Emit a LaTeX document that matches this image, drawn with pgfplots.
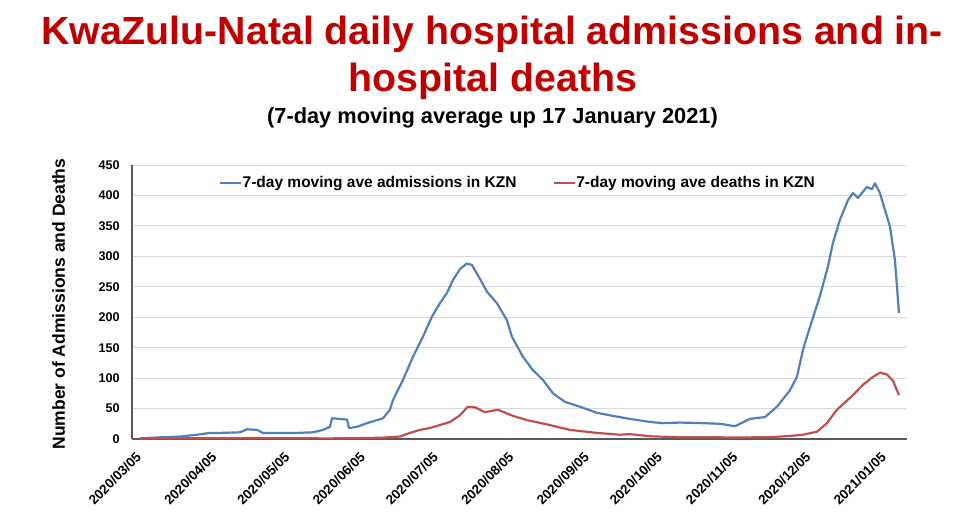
\documentclass[border=0pt]{standalone}
\usepackage{fontspec}
\setmainfont{Liberation Sans}
\usepackage{pgfplots}
\pgfplotsset{compat=1.18}
\definecolor{titlered}{HTML}{C00000}
\definecolor{adm}{HTML}{4F81BD}
\definecolor{dth}{HTML}{C0504D}
\begin{document}
\begin{tikzpicture}[x=1pt,y=1pt]
\path[use as bounding box] (0,0) rectangle (953,520);
\node[anchor=base, text=titlered, font=\fontsize{39.3}{47}\selectfont\bfseries, inner sep=0pt] at (492,475) {KwaZulu-Natal daily hospital admissions and in-};
\node[anchor=base, text=titlered, font=\fontsize{39.3}{47}\selectfont\bfseries, inner sep=0pt] at (493,428.3) {hospital deaths};
\node[anchor=base, font=\fontsize{21.8}{26}\selectfont\bfseries, inner sep=0pt] at (492.5,396) {(7-day moving average up 17 January 2021)};
\begin{axis}[
  at={(132pt,81pt)}, anchor=south west,
  scale only axis, width=775pt, height=274pt,
  xmin=-2.46, xmax=315.9, ymin=0, ymax=450,
  ytick={0,50,...,450},
  xtick={0,31,61,92,122,153,184,214,245,275,306},
  xticklabels={2020/03/05,2020/04/05,2020/05/05,2020/06/05,2020/07/05,2020/08/05,2020/09/05,2020/10/05,2020/11/05,2020/12/05,2021/01/05},
  axis x line*=bottom, axis y line*=left,
  axis line style={-, draw=black!65, line width=1.2pt},
  ymajorgrids, major grid style={draw=black!15, line width=0.9pt},
  major tick length=0pt,
  /pgf/number format/assume math mode=true,
  yticklabel style={font=\fontsize{12.6}{14}\selectfont\bfseries, xshift=-8.8pt},
  xticklabel style={font=\fontsize{13.4}{15}\selectfont\bfseries, inner sep=0pt, xshift=-3pt, yshift=-12pt, rotate=45, anchor=north east},
  ylabel={Number of Admissions and Deaths},
  every axis y label/.style={at={(axis description cs:-0.0865,0.4927)}, rotate=90, anchor=base, font=\fontsize{17.5}{20}\selectfont\bfseries},
  legend columns=2,
  legend style={at={(0.112,0.934)}, anchor=west, draw=none, fill=none, inner sep=0pt,
    font=\fontsize{15.5}{18}\selectfont\bfseries,
    nodes={inner sep=0.5pt},
    /tikz/every even column/.append style={column sep=35.5pt}},
  legend image code/.code={\draw[#1] (0pt,0pt) -- (21pt,0pt);},
  clip=false,
]
\addplot[adm, line width=2.2pt, line join=round] coordinates {
(0.82,1) (10.27,3) (17.25,4) (24.23,7) (29.57,10) (33.68,10) (41.90,11) (44.77,16) (48.88,15) (51.34,10)
(58.33,10) (65.31,10) (71.88,11) (75.99,15) (78.86,20) (79.68,34) (85.85,32) (86.67,18) (89.96,20) (94.06,26)
(98.17,31) (100.63,34) (103.51,48) (104.74,64) (108.85,97) (112.96,135) (117.06,168) (120.76,201) (124.05,223)
(126.92,240) (129.39,261) (132.26,279) (135.01,288) (137.19,286) (138.42,277) (140.48,263) (143.35,242)
(147.46,223) (151.56,195) (153.62,168) (158.14,135) (162.24,113) (166.35,97) (170.46,75) (175.39,61)
(181.55,53) (188.53,43) (195.10,38) (202.09,33) (210.30,28) (215.64,26) (222.62,27) (232.07,26) (239.05,25)
(245.22,21) (251.38,33) (257.54,36) (262.47,53) (267.81,80) (270.68,102) (273.14,146) (274.79,168)
(280.13,235) (283.41,283) (285.47,322) (288.34,360) (291.62,392) (293.68,404) (295.74,396) (299.43,414)
(301.49,410) (302.72,420) (304.78,404) (308.89,349) (310.94,294) (312.59,207)
};
\addlegendentry{7-day moving ave admissions in KZN}
\addplot[dth, line width=2.2pt, line join=round] coordinates {
(0.82,1) (46.0,1.5) (78.86,1) (99.4,2) (107.6,4) (111.7,10) (115.8,15) (119.9,18) (124.05,23) (128.2,28)
(132.26,39) (135.5,53) (138.42,52) (142.5,44) (147.9,48) (154.0,38) (159.8,31) (168.0,24) (177.4,15)
(188.5,10) (198.0,7) (202.1,8) (210.3,4.5) (221.4,3) (232.1,3) (246.0,2.5) (259.6,3) (267.8,5) (273.1,7)
(278.9,12) (283.0,26) (287.1,48) (290.4,60) (293.7,72) (297.8,89) (301.9,102) (304.8,109) (307.6,106)
(310.1,96) (312.6,72)
};
\addlegendentry{7-day moving ave deaths in KZN}
\end{axis}
\end{tikzpicture}
\end{document}
